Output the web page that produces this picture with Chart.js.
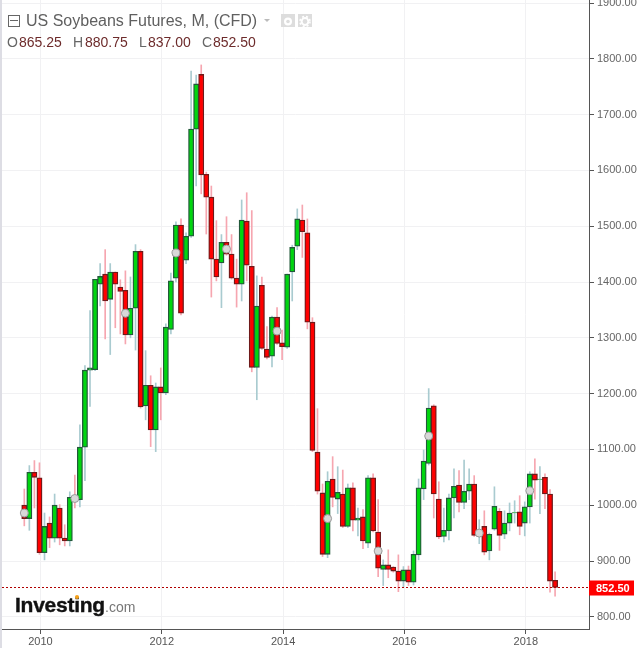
<!DOCTYPE html>
<html>
<head>
<meta charset="utf-8">
<title>US Soybeans Futures</title>
<script src="https://cdn.jsdelivr.net/npm/chart.js@4"></script>
<style>
  html, body { margin: 0; padding: 0; background: #fff; }
  #wrap { position: relative; width: 640px; height: 648px; overflow: hidden; font-family: "Liberation Sans", Arial, sans-serif; }
  #wrap canvas { position: absolute; left: 0; top: 0; }
  #strip { position: absolute; left: 0; top: 0; width: 2px; height: 648px; background: #dddde4; }
  .txt { position: absolute; white-space: nowrap; line-height: 1; }
  #title { left: 26px; top: 13px; font-size: 16px; color: #606060; }
  .lab { top: 35px; font-size: 14px; color: #666; }
  .num { top: 35px; font-size: 14px; color: #6d2b2b; }
  #minus { position: absolute; left: 8px; top: 15px; width: 10px; height: 10px; border: 1px solid #666; }
  #minus i { position: absolute; left: 1px; top: 4px; width: 8px; height: 1px; background: #666; }
  #caret { position: absolute; left: 264px; top: 19px; width: 0; height: 0; border-left: 3px solid transparent; border-right: 3px solid transparent; border-top: 3px solid #bbb; }
  .btn { position: absolute; top: 14px; width: 14px; height: 13px; background: #ddd; }
  #logo { left: 15px; top: 594px; font-size: 21px; font-weight: bold; color: #111; letter-spacing: -0.25px; -webkit-text-stroke: 0.4px #111; }
  #logocom { left: 105px; top: 600px; font-size: 14px; color: #777; }
  #logodot { position: absolute; left: 75px; top: 595px; width: 4px; height: 4px; border-radius: 2px; background: #f7a21b; }
</style>
</head>
<body>
<div id="wrap">
  <canvas id="futuresChart" width="640" height="648"></canvas>
  <div id="strip"></div>
  <div id="minus"><i></i></div>
  <div class="txt" id="title">US Soybeans Futures, M, (CFD)</div>
  <div id="caret"></div>
  <div class="btn" style="left:281px">
    <svg width="14" height="13"><circle cx="7" cy="6.5" r="4" fill="#fff"/><circle cx="7" cy="6.5" r="1.8" fill="#ddd"/></svg>
  </div>
  <div class="btn" style="left:298px">
    <svg width="14" height="13"><circle cx="7" cy="6.5" r="3.4" fill="none" stroke="#fff" stroke-width="2"/><circle cx="7" cy="6.5" r="5" fill="none" stroke="#fff" stroke-width="1.6" stroke-dasharray="2 2"/></svg>
  </div>
  <span class="txt lab" style="left:7px">O</span><span class="txt num" style="left:19px">865.25</span>
  <span class="txt lab" style="left:73px">H</span><span class="txt num" style="left:85px">880.75</span>
  <span class="txt lab" style="left:139px">L</span><span class="txt num" style="left:148px">837.00</span>
  <span class="txt lab" style="left:202px">C</span><span class="txt num" style="left:213px">852.50</span>
  <div class="txt" id="logo">Investing</div>
  <div id="logodot"></div>
  <div class="txt" id="logocom">.com</div>
</div>
<script>
// ===== Monthly candles, first bar is Oct 2009 =====
const opens = [
  1000, 976, 1059, 1049, 915, 968, 941, 995, 941, 936,
  1014, 1010, 1104, 1242, 1243, 1396, 1414, 1369, 1418, 1391,
  1385, 1305, 1353, 1455, 1178, 1215, 1135, 1212, 1201, 1315,
  1407, 1502, 1439, 1482, 1674, 1772, 1593, 1552, 1441, 1434,
  1471, 1450, 1407, 1396, 1509, 1428, 1247, 1394, 1280, 1267,
  1337, 1291, 1283, 1418, 1464, 1511, 1488, 1328, 1095, 1022,
  912, 1047, 1011, 1020, 962, 1031, 973, 979, 932, 1049,
  952, 885, 893, 889, 882, 864, 884, 862, 911, 1029,
  1075, 1178, 1011, 944, 954, 1013, 1036, 1005, 1025, 1038,
  944, 962, 918, 957, 989, 948, 968, 986, 988, 968,
  997, 1056, 1046, 1050, 1020, 865.25
];
const closes = [
  976, 1059, 1050, 915, 962, 941, 1000, 941, 936, 1014,
  1010, 1104, 1242, 1246, 1405, 1410, 1366, 1418, 1396, 1383,
  1305, 1353, 1455, 1176, 1215, 1135, 1212, 1201, 1319, 1402,
  1502, 1344, 1482, 1674, 1755, 1592, 1552, 1441, 1409, 1471,
  1450, 1407, 1396, 1511, 1430, 1247, 1357, 1281, 1265, 1337,
  1290, 1284, 1414, 1462, 1513, 1490, 1328, 1098, 1025, 912,
  1043, 1014, 1023, 962, 1031, 973, 977, 936, 1049, 954,
  887, 893, 885, 882, 864, 884, 862, 912, 1031, 1079,
  1174, 1020, 943, 955, 1013, 1034, 1005, 1025, 1038, 946,
  948, 916, 948, 998, 946, 968, 986, 987, 962, 997,
  1056, 1045, 1047, 1020, 864, 852.5
];
const highs = [
  1029, 1071, 1080, 1076, 986, 979, 1020, 1001, 965, 1024,
  1054, 1144, 1250, 1349, 1405, 1433, 1458, 1433, 1418, 1404,
  1420, 1409, 1467, 1458, 1277, 1232, 1219, 1246, 1325, 1416,
  1508, 1513, 1488, 1778, 1771, 1789, 1597, 1572, 1510, 1485,
  1517, 1485, 1441, 1547, 1560, 1528, 1411, 1409, 1320, 1339,
  1354, 1314, 1414, 1466, 1531, 1538, 1513, 1336, 1173, 1038,
  1060, 1087, 1069, 1063, 1038, 1040, 995, 992, 1053, 1056,
  1010, 902, 920, 890, 911, 890, 891, 918, 1047, 1099,
  1209, 1180, 1042, 995, 1020, 1065, 1062, 1081, 1065, 1053,
  974, 990, 950, 1033, 994, 990, 1004, 1008, 1017, 1006,
  1060, 1083, 1069, 1056, 1028, 880.75
];
const lows = [
  963, 955, 995, 912, 902, 924, 934, 929, 927, 927,
  995, 997, 1044, 1177, 1241, 1357, 1298, 1270, 1318, 1307,
  1289, 1300, 1278, 1174, 1153, 1105, 1096, 1153, 1198, 1307,
  1400, 1341, 1433, 1480, 1572, 1558, 1486, 1373, 1402, 1354,
  1448, 1405, 1355, 1366, 1402, 1239, 1189, 1279, 1262, 1248,
  1288, 1261, 1281, 1366, 1458, 1444, 1316, 1096, 1020, 908,
  906, 997, 985, 960, 960, 954, 945, 922, 924, 952,
  872, 856, 870, 880, 845, 854, 856, 857, 902, 1010,
  1072, 977, 940, 934, 938, 977, 988, 994, 1010, 944,
  931, 911, 902, 955, 919, 940, 954, 968, 947, 945,
  968, 1011, 985, 994, 844, 837
];

// grey event markers
const eventBars = [0, 10, 20, 30, 40, 50, 60, 70, 80, 90, 100];
const eventValues = [986, 1012, 1344, 1452, 1459, 1312, 976, 918, 1124, 950, 1026];

const yearLabels = ['2010', '2012', '2014', '2016', '2018'];
const yearTicks = [3.2, 27.2, 51.2, 75.2, 99.2];
const priceTicks = [800, 900, 1000, 1100, 1200, 1300, 1400, 1500, 1600, 1700, 1800, 1900];
const lastClose = closes[closes.length - 1];

const xMin = -4.41, xMax = 111.71;
const yMin = 778.14, yMax = 1905.38;

const isUp = closes.map((c, i) => c >= opens[i]);

// ===== Price tag on the axis =====
const priceTag = {
  id: 'priceTag',
  afterDraw(chart) {
    const c = chart.ctx;
    const y = chart.scales.y.getPixelForValue(lastClose);
    c.save();
    c.fillStyle = '#ff0000';
    c.fillRect(589, y - 7, 45, 15);
    c.fillStyle = '#fff';
    c.font = 'bold 11px "Liberation Sans"';
    c.textBaseline = 'middle';
    c.fillText(lastClose.toFixed(2), 596, y + 1);
    c.restore();
  }
};

const ctx = document.getElementById('futuresChart').getContext('2d');
const futuresChart = new Chart(ctx, {
  type: 'bar',
  data: {
    datasets: [
      {
        type: 'line',
        data: eventBars.map((b, i) => ({ x: b, y: eventValues[i] })),
        showLine: false,
        pointRadius: 4,
        pointBackgroundColor: '#d8d8d8',
        pointBorderColor: '#999',
        pointBorderWidth: 1,
        order: 0
      },
      {
        type: 'line',
        data: [{ x: xMin, y: lastClose }, { x: xMax, y: lastClose }],
        borderColor: '#b00000',
        borderWidth: 1,
        borderDash: [2, 2],
        pointRadius: 0,
        order: 1
      },
      {
        data: opens.map((o, i) => ({ x: i, y: [o, closes[i]] })),
        barThickness: 5.2,
        grouped: false,
        borderWidth: 1.3,
        borderSkipped: false,
        backgroundColor: isUp.map(u => u ? '#00d60f' : '#ff0000'),
        borderColor: isUp.map(u => u ? '#22593a' : '#6e1a1a'),
        order: 2
      },
      {
        data: lows.map((l, i) => ({ x: i, y: [l, highs[i]] })),
        barThickness: 1,
        grouped: false,
        borderWidth: 0,
        backgroundColor: isUp.map(u => u ? '#a9cbd0' : '#f6a6b0'),
        order: 3
      }
    ]
  },
  plugins: [priceTag],
  options: {
    responsive: false,
    animation: false,
    layout: { autoPadding: false, padding: { left: 2, right: 0, top: 0, bottom: 0 } },
    plugins: { legend: { display: false }, tooltip: { enabled: false } },
    scales: {
      x: {
        type: 'linear',
        min: xMin,
        max: xMax,
        offset: false,
        border: { color: '#555' },
        grid: { offset: false, color: '#f1f1f3', tickColor: '#555', tickLength: 5 },
        ticks: {
          color: '#555',
          font: { family: '"Liberation Sans"', size: 11 },
          padding: 1,
          maxRotation: 0,
          autoSkip: false,
          callback: (v, i) => yearLabels[i]
        },
        afterBuildTicks: s => { s.ticks = yearTicks.map(v => ({ value: v })); },
        afterFit: s => { s.height = 19; s.paddingLeft = 0; s.paddingRight = 0; }
      },
      y: {
        position: 'right',
        min: yMin,
        max: yMax,
        border: { color: '#555' },
        grid: { color: '#f1f1f3', tickColor: '#555', tickLength: 5 },
        ticks: {
          color: '#666',
          font: { family: '"Liberation Sans"', size: 11 },
          padding: 3,
          autoSkip: false,
          callback: v => v.toFixed(2)
        },
        afterBuildTicks: s => { s.ticks = priceTicks.map(v => ({ value: v })); },
        afterFit: s => { s.width = 51; s.paddingTop = 0; s.paddingBottom = 0; }
      }
    }
  }
});
</script>
</body>
</html>
